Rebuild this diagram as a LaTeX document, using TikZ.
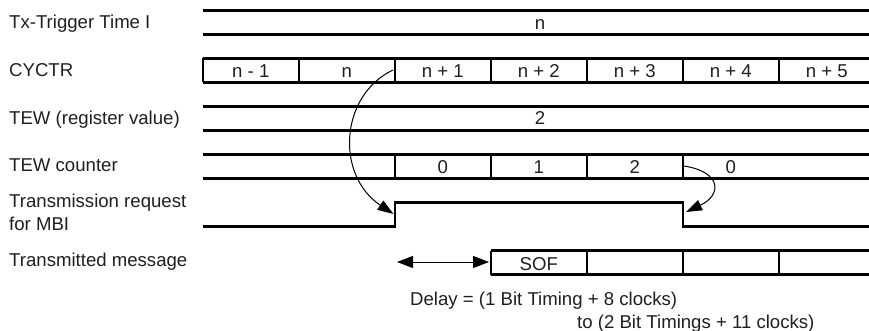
\documentclass[tikz,border=0pt]{standalone}
\usepackage{fontspec}
\setmainfont{Liberation Sans}
\usetikzlibrary{arrows.meta}
\begin{document}
\begin{tikzpicture}[x=1pt,y=-1pt,
  sig/.style={line width=2.1pt, line join=miter},
  txt/.style={inner sep=0pt, text=black!88, font=\fontsize{18.6}{22}\selectfont},
  lbl/.style={txt, anchor=base west},
  val/.style={txt, anchor=base},
  carrow/.style={line width=1pt, -{Triangle[length=16pt,width=11pt]}},
  dblarrow/.style={line width=1pt, {Triangle[length=16pt,width=12pt]}-{Triangle[length=16pt,width=12pt]}}
]
\useasboundingbox (0,0) rectangle (869,331);

% labels
\node[lbl] (l1)  at (9,29)    {Tx-Trigger Time I};
\node[lbl] (l2)  at (9,76.5)  {CYCTR};
\node[lbl] (l3)  at (9,124.5) {TEW (register value)};
\node[lbl] (l4)  at (9,171.5) {TEW counter};
\node[lbl] (l5a) at (9,207)   {Transmission request};
\node[lbl] (l5b) at (9,230)   {for MBI};
\node[lbl] (l6)  at (9,266)   {Transmitted message};

% row 1: Tx-Trigger Time
\draw[sig] (202.8,10.5) -- (869,10.5);
\draw[sig] (202.8,34.5) -- (869,34.5);
\node[val] (t1) at (540,29.5) {n};

% row 2: CYCTR
\draw[sig] (202.8,58.5) -- (869,58.5);
\draw[sig] (202.8,82.5) -- (869,82.5);
\foreach \i in {0,...,6} {
  \draw[sig] (202.8+96*\i,58.5) -- (202.8+96*\i,82.5);
}
\foreach \i/\t in {0/n - 1,1/n,2/n + 1,3/n + 2,4/n + 3,5/n + 4,6/n + 5} {
  \node[val] (cy\i) at (250.8+96*\i,78) {\t};
}

% row 3: TEW register value
\draw[sig] (202.8,106.5) -- (869,106.5);
\draw[sig] (202.8,130.5) -- (869,130.5);
\node[val] (tw) at (540,124.5) {2};

% row 4: TEW counter
\draw[sig] (202.8,154.5) -- (869,154.5);
\draw[sig] (202.8,178.5) -- (869,178.5);
\foreach \i in {2,...,5} {
  \draw[sig] (202.8+96*\i,154.5) -- (202.8+96*\i,178.5);
}
\foreach \i/\t in {2/0,3/1,4/2,5/0} {
  \node[val] (tc\i) at (250.8+96*\i,174) {\t};
}

% row 5: transmission request
\draw[sig] (202.8,226.5) -- (394.8,226.5) -- (394.8,202.5) -- (682.8,202.5) -- (682.8,226.5) -- (869,226.5);

% row 6: transmitted message
\draw[sig] (490.8,250.5) -- (869,250.5);
\draw[sig] (490.8,274.5) -- (869,274.5);
\foreach \i in {3,...,6} {
  \draw[sig] (202.8+96*\i,250.5) -- (202.8+96*\i,274.5);
}
\node[val] (sof) at (538.8,270) {SOF};

% delay arrow
\coordinate (dA) at (397,262);
\coordinate (dB) at (489,262);
\draw[dblarrow] (dA) -- (dB);
\node[lbl] (d1) at (410,305.5) {Delay = (1 Bit Timing + 8 clocks)};
\node[lbl] (d2) at (577,328) {to (2 Bit Timings + 11 clocks)};

% curved arrows
\coordinate (c1s) at (393,70);
\coordinate (c1e) at (393.5,214);
\draw[carrow] (c1s) .. controls (340,95) and (335,175) .. (c1e);
\coordinate (c2s) at (684,166);
\coordinate (c2e) at (686,212);
\draw[carrow] (c2s) .. controls (722,172) and (722,195) .. (c2e);
\end{tikzpicture}
\end{document}
